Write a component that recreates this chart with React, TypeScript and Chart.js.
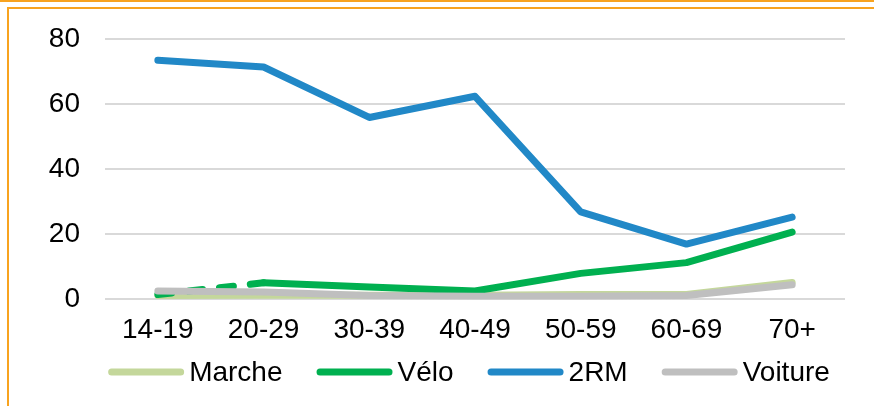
import React, { useEffect, useRef } from "react";
import { Chart, registerables } from "chart.js";

Chart.register(...registerables);

const categories = ["14-19", "20-29", "30-39", "40-49", "50-59", "60-69", "70+"];
const marche = [1.2, 1.3, 1.3, 1.3, 1.5, 1.5, 5.2];
const velo = [1.5, 5.1, 3.8, 2.6, 8.0, 11.3, 20.7];
const deuxRM = [73.5, 71.4, 55.9, 62.4, 26.9, 17.0, 25.3];
const voiture = [2.6, 2.3, 1.2, 1.0, 1.0, 1.2, 4.5];
const yTicks = [0, 20, 40, 60, 80];

const FONT = "'Liberation Sans', Arial, sans-serif";
const FONT_SIZE = 28;
const ORANGE = "#F8A31F";

const legendPlugin = {
  id: "customLegend",
  afterDraw(chart: any) {
    const ctx = chart.ctx as CanvasRenderingContext2D;
    const ds = chart.data.datasets;
    const swatch = 76;
    const gapText = 5;
    const gapItem = 34;
    const centerX = 469;
    const cy = 372;
    ctx.save();
    ctx.font = `${FONT_SIZE}px ${FONT}`;
    const widths = ds.map((d: any) => ctx.measureText(d.label).width);
    const total =
      ds.length * (swatch + gapText) + widths.reduce((a: number, b: number) => a + b, 0) + (ds.length - 1) * gapItem;
    let x = centerX - total / 2;
    ds.forEach((d: any, i: number) => {
      ctx.beginPath();
      ctx.lineWidth = 7;
      ctx.lineCap = "round";
      ctx.strokeStyle = d.borderColor;
      ctx.moveTo(x + 3.5, cy);
      ctx.lineTo(x + swatch - 3.5, cy);
      ctx.stroke();
      x += swatch + gapText;
      ctx.fillStyle = "#000";
      ctx.textBaseline = "middle";
      ctx.textAlign = "left";
      ctx.fillText(d.label, x, cy + 1);
      x += widths[i] + gapItem;
    });
    ctx.restore();
  },
};

export default function App() {
  const ref = useRef<HTMLCanvasElement | null>(null);

  useEffect(() => {
    if (!ref.current) return;
    const common = {
      fill: false,
      pointRadius: 0,
      pointHoverRadius: 0,
      borderWidth: 7,
      borderCapStyle: "round" as const,
      borderJoinStyle: "round" as const,
      tension: 0,
    };
    const chart = new Chart(ref.current, {
      type: "line",
      data: {
        labels: categories,
        datasets: [
          { ...common, label: "Marche", data: marche, borderColor: "#C4D79B", backgroundColor: "#C4D79B", order: 2 },
          {
            ...common,
            label: "Vélo",
            data: velo,
            borderColor: "#00B050",
            backgroundColor: "#00B050",
            order: 1,
            segment: {
              borderDash: (ctx: any) => (ctx.p0DataIndex === 0 ? [14, 17] : undefined),
            },
          },
          { ...common, label: "2RM", data: deuxRM, borderColor: "#2188C7", backgroundColor: "#2188C7", order: 3 },
          { ...common, label: "Voiture", data: voiture, borderColor: "#BFBFBF", backgroundColor: "#BFBFBF", order: 0 },
        ],
      },
      plugins: [legendPlugin],
      options: {
        responsive: false,
        animation: false,
        layout: { padding: { left: 20, right: 29, top: 36, bottom: 45 } },
        plugins: {
          tooltip: { enabled: false },
          legend: { display: false },
        },
        scales: {
          x: {
            offset: true,
            grid: { display: false, drawTicks: false },
            border: { display: false },
            ticks: { color: "#000", font: { family: FONT, size: FONT_SIZE }, padding: 14, maxRotation: 0 },
          },
          y: {
            min: 0,
            max: 80,
            afterFit: (s: any) => {
              s.width = 85;
            },
            afterBuildTicks: (s: any) => {
              s.ticks = yTicks.map((v) => ({ value: v }));
            },
            grid: { color: "#D9D9D9", lineWidth: 2, drawTicks: false },
            border: { display: false },
            ticks: { color: "#000", font: { family: FONT, size: FONT_SIZE, lineHeight: 1 }, padding: 25 },
          },
        },
      },
    });
    return () => chart.destroy();
  }, []);

  return (
    <div style={{ position: "fixed", left: 0, top: 0, width: 874, height: 406, background: "#fff", overflow: "hidden" }}>
      <div style={{ position: "absolute", left: 0, top: 0, width: 874, height: 2, background: ORANGE }} />
      <div
        style={{
          position: "absolute",
          left: 7,
          top: 7,
          width: 900,
          height: 420,
          borderTop: `2px solid ${ORANGE}`,
          borderLeft: `2px solid ${ORANGE}`,
        }}
      />
      <canvas ref={ref} width={874} height={406} style={{ position: "absolute", left: 0, top: 0 }} />
    </div>
  );
}
